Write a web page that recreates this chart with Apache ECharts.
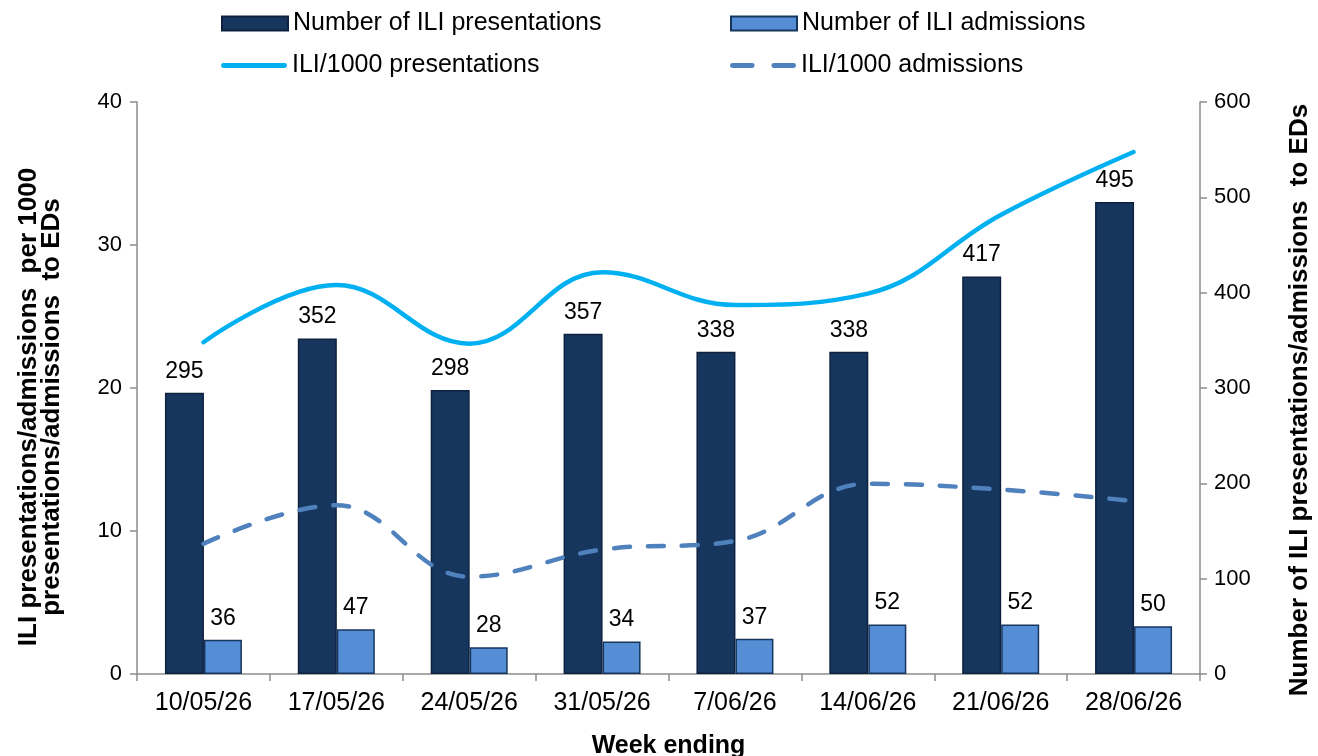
<!DOCTYPE html>
<html>
<head>
<meta charset="utf-8">
<script src="https://cdn.jsdelivr.net/npm/echarts@6/dist/echarts.min.js"></script>
<style>
  html, body { margin: 0; padding: 0; background: #fff; }
  #chart { width: 1318px; height: 756px; }
</style>
</head>
<body>
<div id="chart"></div>
<script>
// Weekly ILI activity at emergency departments
const weeks = ['10/05/26', '17/05/26', '24/05/26', '31/05/26', '7/06/26', '14/06/26', '21/06/26', '28/06/26'];
const iliPresentations = [295, 352, 298, 357, 338, 338, 417, 495];
const iliAdmissions = [36, 47, 28, 34, 37, 52, 52, 50];
const iliPer1000Presentations = [23.2, 27.2, 23.1, 28.1, 25.8, 26.6, 32.1, 36.5];
const iliPer1000Admissions = [9.1, 11.8, 6.8, 8.7, 9.3, 13.3, 12.9, 12.1];
const leftTicks = { min: 0, max: 40, interval: 10 };
const rightTicks = { min: 0, max: 600, interval: 100 };

const leftTitle = 'ILI presentations/admissions  per 1000\npresentations/admissions  to EDs';
const rightTitle = 'Number of ILI presentations/admissions  to EDs';

const FONT = 'Liberation Sans, Arial, sans-serif';
const AXIS_GREY = '#8c8c8c';
const DARK = '#17365d';
const LIGHT = '#558ed5';
const CYAN = '#00b0f0';
const STEEL = '#4f81bd';

const chart = echarts.init(document.getElementById('chart'), null, { renderer: 'canvas' });

const legendText = { fontFamily: FONT, fontSize: 25, color: '#000' };
function legendAt(name, left, top, icon, h) {
  return {
    data: [{ name: name, icon: icon }],
    left: left, top: top, itemWidth: 66, itemHeight: h,
    textStyle: legendText, selectedMode: false
  };
}

const titleStyle = { fontFamily: FONT, fontSize: 26, fontWeight: 'bold', fill: '#000' };

chart.setOption({
  animation: false,
  backgroundColor: '#fff',
  legend: [
    legendAt('Number of ILI presentations', 216, 6, 'rect', 14),
    legendAt('Number of ILI admissions', 725, 6, 'rect', 14),
    legendAt('ILI/1000 presentations', 216, 48, 'path://M2,0H64A2,2 0 0 1 64,5H2A2,2 0 0 1 2,0Z', 5),
    legendAt('ILI/1000 admissions', 725, 48, 'path://M2,0H22A2,2 0 0 1 22,5H2A2,2 0 0 1 2,0Z M44,0H64A2,2 0 0 1 64,5H44A2,2 0 0 1 44,0Z', 5)
  ],
  graphic: [
    {
      type: 'text', x: 40, y: 407, rotation: Math.PI / 2,
      style: Object.assign({ text: leftTitle, align: 'center', verticalAlign: 'middle', lineHeight: 23 }, titleStyle)
    },
    {
      type: 'text', x: 1300, y: 400, rotation: Math.PI / 2,
      style: Object.assign({ text: rightTitle, align: 'center', verticalAlign: 'middle' }, titleStyle)
    }
  ],
  grid: { left: 137, right: 118, top: 102, bottom: 82, containLabel: false, outerBoundsMode: 'none' },
  xAxis: {
    type: 'category',
    data: weeks,
    boundaryGap: true,
    name: 'Week ending',
    nameLocation: 'middle',
    nameGap: 60,
    nameTextStyle: { fontFamily: FONT, fontSize: 25, fontWeight: 'bold', color: '#000' },
    axisLine: { lineStyle: { color: AXIS_GREY, width: 1.5 } },
    axisTick: { show: true, length: 7, lineStyle: { color: AXIS_GREY, width: 1.5 } },
    axisLabel: { fontFamily: FONT, fontSize: 25, color: '#000', margin: 17 }
  },
  yAxis: [
    {
      type: 'value',
      min: leftTicks.min, max: leftTicks.max, interval: leftTicks.interval,
      position: 'left',
      axisLine: { show: true, lineStyle: { color: AXIS_GREY, width: 1.5 } },
      axisTick: { show: true, length: 7, lineStyle: { color: AXIS_GREY, width: 1.5 } },
      axisLabel: { fontFamily: FONT, fontSize: 22, color: '#000', margin: 15 },
      splitLine: { show: false }
    },
    {
      type: 'value',
      min: rightTicks.min, max: rightTicks.max, interval: rightTicks.interval,
      position: 'right',
      axisLine: { show: true, lineStyle: { color: AXIS_GREY, width: 1.5 } },
      axisTick: { show: true, length: 7, lineStyle: { color: AXIS_GREY, width: 1.5 } },
      axisLabel: { fontFamily: FONT, fontSize: 22, color: '#000', margin: 14 },
      splitLine: { show: false }
    }
  ],
  series: [
    {
      name: 'Number of ILI presentations',
      type: 'bar',
      yAxisIndex: 1,
      data: iliPresentations,
      barWidth: 39,
      barGap: '0%',
      itemStyle: { color: DARK, borderColor: '#0e2240', borderWidth: 1.5 },
      label: { show: true, position: 'top', distance: 10, fontFamily: FONT, fontSize: 23, color: '#000' }
    },
    {
      name: 'Number of ILI admissions',
      type: 'bar',
      yAxisIndex: 1,
      data: iliAdmissions,
      barWidth: 38,
      barGap: '0%',
      itemStyle: { color: LIGHT, borderColor: DARK, borderWidth: 1.5 },
      label: { show: true, position: 'top', distance: 10, fontFamily: FONT, fontSize: 23, color: '#000' }
    },
    {
      name: 'ILI/1000 presentations',
      type: 'line',
      yAxisIndex: 0,
      data: iliPer1000Presentations,
      smooth: 0.4,
      symbol: 'none',
      lineStyle: { color: CYAN, width: 4.5, cap: 'round' },
      itemStyle: { color: CYAN }
    },
    {
      name: 'ILI/1000 admissions',
      type: 'line',
      yAxisIndex: 0,
      data: iliPer1000Admissions,
      smooth: 0.4,
      symbol: 'none',
      lineStyle: { color: STEEL, width: 4.5, type: [16, 18], cap: 'round' },
      itemStyle: { color: STEEL }
    }
  ]
});
</script>
</body>
</html>
